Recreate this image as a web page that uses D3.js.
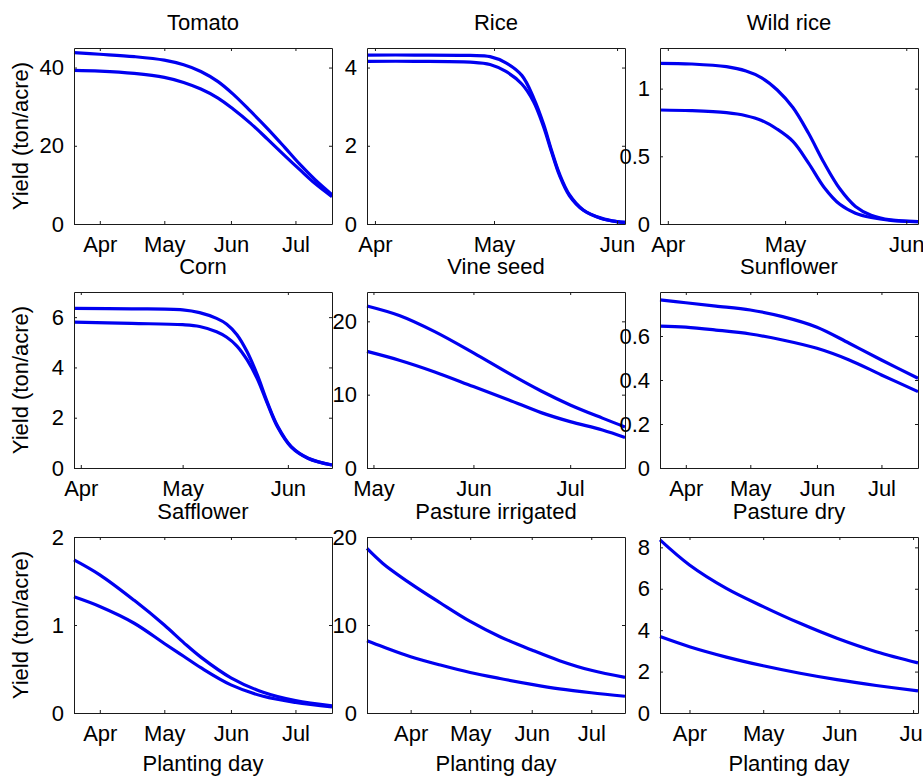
<!DOCTYPE html>
<html>
<head>
<meta charset="utf-8">
<script src="https://cdn.jsdelivr.net/npm/d3@7"></script>
<style>
  body { margin: 0; background: #fff; }
  text { font-family: "Liberation Sans", Arial, Helvetica, sans-serif; }
</style>
</head>
<body>
<svg id="chart"></svg>
<script>
// day of year (Jan 1 = 0) for the month ticks
const monthDays = [90, 120, 151, 181];
const monthLabels = ['Apr', 'May', 'Jun', 'Jul'];

const titles = ['Tomato', 'Rice', 'Wild rice', 'Corn', 'Vine seed', 'Sunflower',
  'Safflower', 'Pasture irrigated', 'Pasture dry'];

const xRanges = [[78, 198], [88, 153], [88, 154], [88, 164], [118, 198], [78, 198],
  [78, 198], [68, 198], [78, 183]];
const yRanges = [[0, 45], [0, 4.5], [0, 1.3], [0, 7], [0, 24], [0, 0.8],
  [0, 2], [0, 20], [0, 8.5]];
const yTicks = [[0, 20, 40], [0, 2, 4], [0, 0.5, 1], [0, 2, 4, 6], [0, 10, 20],
  [0, 0.2, 0.4, 0.6], [0, 1, 2], [0, 10, 20], [0, 2, 4, 6, 8]];

// yield values, ton/acre (two curves per crop)
const tomatoDays = [78, 90, 106, 120, 129, 137, 145, 152, 160, 168, 176, 183, 190, 198];
const tomatoA = [43.8, 43.4, 42.8, 41.9, 40.7, 39.0, 36.4, 33.2, 28.9, 24.4, 19.6, 15.3, 11.4, 7.5];
const tomatoB = [39.3, 39.1, 38.5, 37.5, 36.2, 34.5, 32.2, 29.4, 25.8, 21.7, 17.5, 13.9, 10.4, 7.0];

const riceDays = [88, 100, 114, 119, 123, 127, 130, 132.5, 134.5, 136.5, 139, 142.5, 147, 151, 153];
const riceA = [4.32, 4.32, 4.31, 4.28, 4.12, 3.8, 3.22, 2.55, 1.88, 1.28, 0.75, 0.36, 0.15, 0.06, 0.04];
const riceB = [4.16, 4.16, 4.14, 4.08, 3.9, 3.58, 3.12, 2.48, 1.84, 1.24, 0.72, 0.35, 0.14, 0.06, 0.04];

const wildRiceDays = [88, 96, 105, 110, 114, 118, 122, 126, 130, 134, 138, 142, 147, 154];
const wildRiceA = [1.187, 1.182, 1.162, 1.13, 1.08, 0.99, 0.86, 0.67, 0.45, 0.26, 0.13, 0.065, 0.03, 0.017];
const wildRiceB = [0.842, 0.837, 0.822, 0.8, 0.765, 0.70, 0.61, 0.45, 0.27, 0.145, 0.08, 0.048, 0.027, 0.017];

const cornDays = [88, 105, 120, 125, 130, 133, 136, 139, 142, 145, 148, 152, 157, 164];
const cornA = [6.35, 6.33, 6.29, 6.18, 5.95, 5.72, 5.3, 4.62, 3.7, 2.6, 1.66, 0.85, 0.39, 0.12];
const cornB = [5.8, 5.75, 5.7, 5.63, 5.42, 5.2, 4.85, 4.3, 3.55, 2.55, 1.62, 0.83, 0.38, 0.12];

const vineDays = [118, 128, 139, 151, 162, 172, 181, 191, 198];
const vineA = [22.1, 20.8, 18.6, 15.7, 12.9, 10.5, 8.6, 6.8, 5.6];
const vineB = [15.9, 14.7, 13.1, 11.1, 9.28, 7.55, 6.32, 5.18, 4.15];

const sunflowerDays = [78, 90, 104, 120, 135, 151, 166, 181, 198];
const sunflowerA = [0.764, 0.751, 0.736, 0.718, 0.688, 0.64, 0.567, 0.491, 0.408];
const sunflowerB = [0.645, 0.64, 0.627, 0.609, 0.582, 0.544, 0.491, 0.423, 0.347];

const saffDays = [78, 90, 106, 120, 129, 137, 151, 166, 181, 198];
const saffA = [1.74, 1.57, 1.28, 1.0, 0.8, 0.635, 0.4, 0.235, 0.14, 0.08];
const saffB = [1.32, 1.21, 1.02, 0.79, 0.645, 0.515, 0.32, 0.19, 0.12, 0.07];

const pastIrrDays = [68, 76, 90, 105, 120, 135, 151, 165, 181, 198];
const pastIrrA = [18.7, 17.0, 14.7, 12.5, 10.4, 8.67, 7.16, 5.95, 4.85, 4.05];
const pastIrrB = [8.22, 7.53, 6.4, 5.45, 4.6, 3.92, 3.26, 2.75, 2.3, 1.9];

const pastDryDays = [78, 90, 105, 120, 135, 150, 166, 183];
const pastDryA = [8.36, 7.15, 6.02, 5.14, 4.33, 3.61, 2.96, 2.42];
const pastDryB = [3.69, 3.2, 2.7, 2.28, 1.92, 1.61, 1.33, 1.07];

const allDays = [tomatoDays, riceDays, wildRiceDays, cornDays, vineDays, sunflowerDays,
  saffDays, pastIrrDays, pastDryDays];
const allSeries = [[tomatoA, tomatoB], [riceA, riceB], [wildRiceA, wildRiceB],
  [cornA, cornB], [vineA, vineB], [sunflowerA, sunflowerB],
  [saffA, saffB], [pastIrrA, pastIrrB], [pastDryA, pastDryB]];

const w = 923;
const h = 776;
const colX = [74, 367, 660];
const rowY = [48, 292, 537];
const pw = 258;
const ph = 176;
const fontSize = 22;
const lineColor = '#0000f0';
const axisColor = '#1a1a1a';

const svg = d3.select('#chart').attr('width', w).attr('height', h);
svg.append('rect').attr('width', w).attr('height', h).attr('fill', '#fff');

titles.forEach((title, i) => {
  const col = i % 3;
  const row = Math.floor(i / 3);
  const g = svg.append('g').attr('transform', `translate(${colX[col]},${rowY[row]})`);

  const x = d3.scaleLinear().domain(xRanges[i]).range([0, pw]);
  const y = d3.scaleLinear().domain(yRanges[i]).range([ph, 0]);

  const ticksX = monthDays.filter((d) => d >= xRanges[i][0] && d <= xRanges[i][1]);
  const labelX = (d) => monthLabels[monthDays.indexOf(d)];

  // curves
  const line = d3.line()
    .x((d) => x(d[0]))
    .y((d) => y(d[1]))
    .curve(d3.curveCatmullRom.alpha(0.5));

  allSeries[i].forEach((vals) => {
    const pts = allDays[i].map((d, k) => [d, vals[k]]);
    g.append('path')
      .attr('d', line(pts))
      .attr('fill', 'none')
      .attr('stroke', lineColor)
      .attr('stroke-width', 3.2)
      .attr('stroke-linejoin', 'round');
  });

  // box with inward ticks on all four sides
  const axes = [
    g.append('g').attr('transform', `translate(0,${ph})`)
      .call(d3.axisBottom(x).tickValues(ticksX).tickFormat(labelX)
        .tickSize(-3).tickSizeOuter(0).tickPadding(12)),
    g.append('g')
      .call(d3.axisTop(x).tickValues(ticksX).tickFormat('')
        .tickSize(-3).tickSizeOuter(0)),
    g.append('g')
      .call(d3.axisLeft(y).tickValues(yTicks[i]).tickFormat((d) => String(d))
        .tickSize(-3).tickSizeOuter(0).tickPadding(10)),
    g.append('g').attr('transform', `translate(${pw},0)`)
      .call(d3.axisRight(y).tickValues(yTicks[i]).tickFormat('')
        .tickSize(-3).tickSizeOuter(0)),
  ];
  axes.forEach((a) => {
    a.attr('font-size', fontSize)
      .attr('font-family', '"Liberation Sans", Arial, sans-serif');
    a.selectAll('path, line').attr('stroke', axisColor);
    a.selectAll('text').attr('fill', '#000');
  });

  // title
  g.append('text')
    .attr('x', pw / 2)
    .attr('y', -18.5)
    .attr('text-anchor', 'middle')
    .attr('font-size', fontSize)
    .text(title);

  if (col === 0) {
    svg.append('text')
      .attr('transform', `translate(28,${rowY[row] + ph / 2}) rotate(-90)`)
      .attr('text-anchor', 'middle')
      .attr('font-size', fontSize)
      .text('Yield (ton/acre)');
  }
  if (row === 2) {
    g.append('text')
      .attr('x', pw / 2)
      .attr('y', ph + 58)
      .attr('text-anchor', 'middle')
      .attr('font-size', fontSize)
      .text('Planting day');
  }
});
</script>
</body>
</html>
